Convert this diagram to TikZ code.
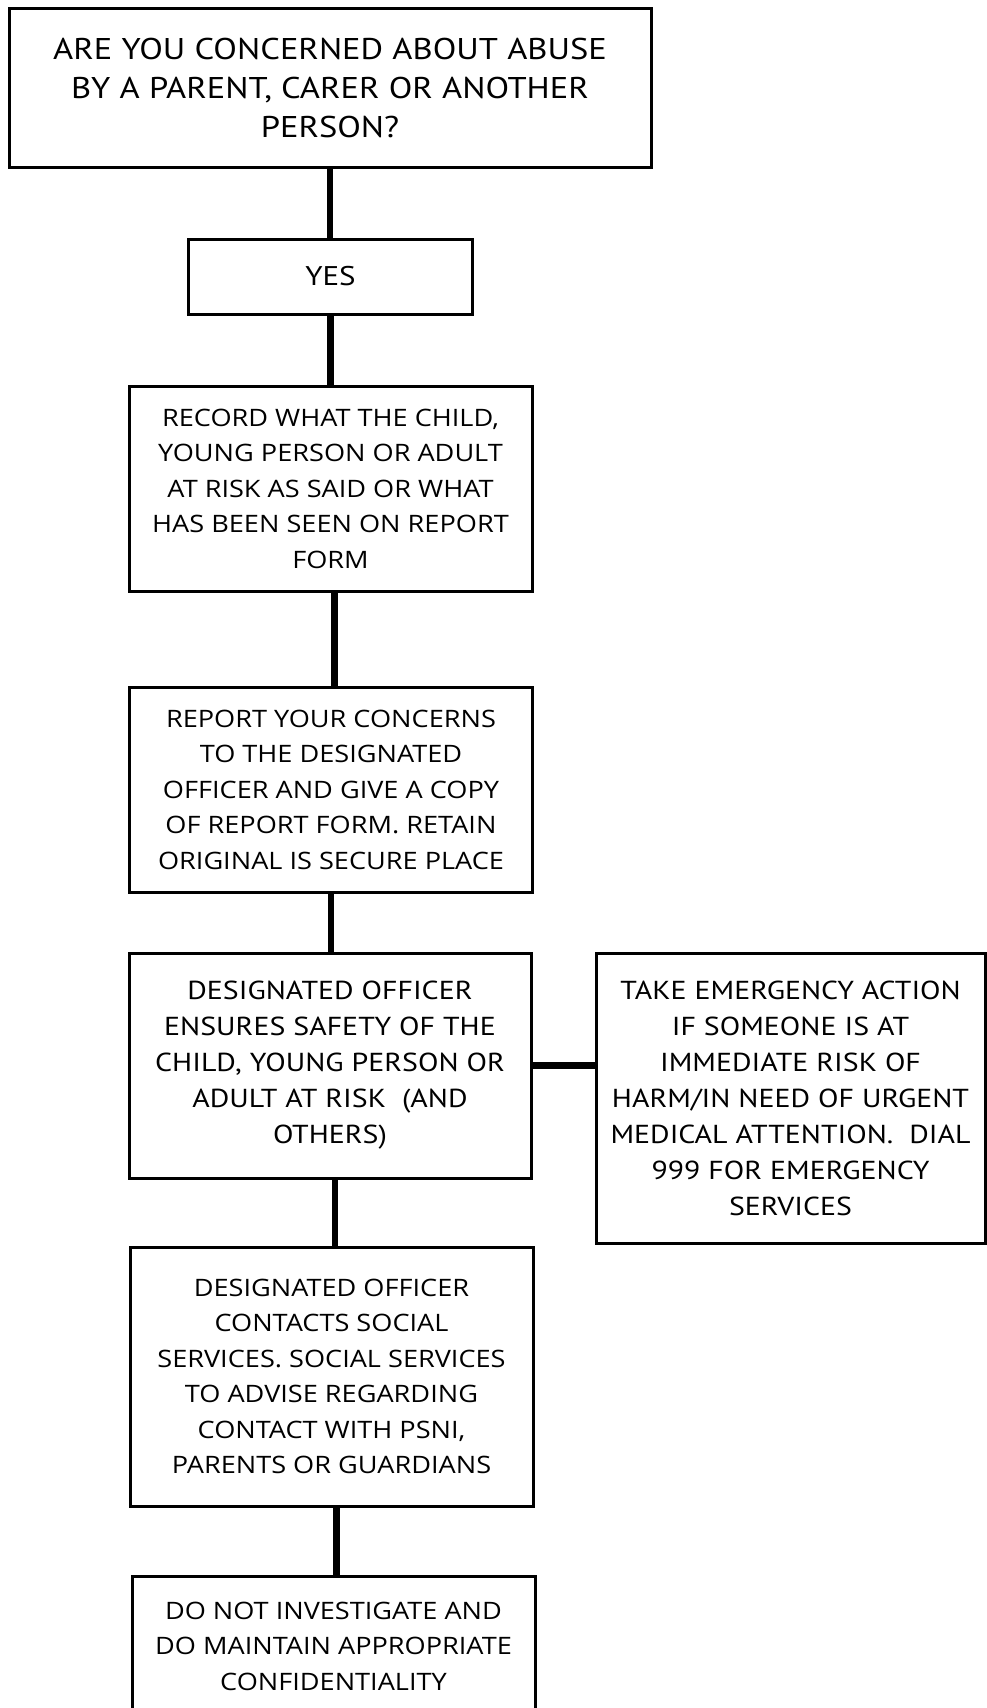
\documentclass[tikz,border=0pt]{standalone}
\usepackage{fontspec}
\setmainfont{Open Sans}
\newfontfamily\narrowfont[FakeStretch=1.15]{PT Sans}
\newfontfamily\widefont[FakeStretch=1.13]{Open Sans}
\usetikzlibrary{positioning}

\tikzset{
  stepbox/.style={draw, line width=3pt, inner sep=0pt, align=center},
  widetext/.style={font=\widefont\fontsize{24}{35.5}\selectfont},
  narrowtext/.style={font=\narrowfont\fontsize{26}{36}\selectfont},
  link/.style={line width=6.5pt},
}

\begin{document}
\begin{tikzpicture}[x=1pt,y=-1pt]
  \clip (0,0) rectangle (987,1708);
  \fill[white] (0,0) rectangle (987,1708);

  % main column
  \node (ask) [stepbox, minimum width=642pt, minimum height=159pt,
    font=\narrowfont\fontsize{30}{39}\selectfont] at (330,87.5)
    {ARE YOU CONCERNED ABOUT ABUSE\\BY A PARENT, CARER OR ANOTHER\\PERSON?};
  \node (yes) [stepbox, minimum width=284pt, minimum height=75pt,
    font=\narrowfont\fontsize{27}{36}\selectfont] at (330.5,276.5) {YES};
  \node (record) [stepbox, widetext, minimum width=403pt, minimum height=205pt] at (330.5,488.5)
    {RECORD WHAT THE CHILD,\\YOUNG PERSON OR ADULT\\AT RISK AS SAID OR WHAT\\HAS BEEN SEEN ON REPORT\\FORM};
  \node (report) [stepbox, widetext, minimum width=403pt, minimum height=205pt] at (331,789.5)
    {REPORT YOUR CONCERNS\\TO THE DESIGNATED\\OFFICER AND GIVE A COPY\\OF REPORT FORM. RETAIN\\ORIGINAL IS SECURE PLACE};
  \node (safety) [stepbox, narrowtext, minimum width=402pt, minimum height=225pt] at (330,1065.5)
    {DESIGNATED OFFICER\\ENSURES SAFETY OF THE\\CHILD, YOUNG PERSON OR\\ADULT AT RISK~~(AND\\OTHERS)};
  \node (social) [stepbox, widetext, minimum width=403pt, minimum height=259pt] at (331.5,1376.5)
    {DESIGNATED OFFICER\\CONTACTS SOCIAL\\SERVICES. SOCIAL SERVICES\\TO ADVISE REGARDING\\CONTACT WITH PSNI,\\PARENTS OR GUARDIANS};
  \node (secret) [stepbox, widetext, minimum width=403pt, minimum height=140pt] at (333.5,1646)
    {DO NOT INVESTIGATE AND\\DO MAINTAIN APPROPRIATE\\CONFIDENTIALITY};

  % side branch
  \node (urgent) [stepbox, narrowtext, minimum width=389pt, minimum height=290pt] at (790.5,1098)
    {TAKE EMERGENCY ACTION\\IF SOMEONE IS AT\\IMMEDIATE RISK OF\\HARM/IN NEED OF URGENT\\MEDICAL ATTENTION.~~DIAL\\999 FOR EMERGENCY\\SERVICES};

  % connectors
  \draw[link] (ask.south) -- (ask.south |- yes.north);
  \draw[link] (yes.south) -- (yes.south |- record.north);
  \draw[link] ([xshift=4pt]record.south) -- ([xshift=4pt]record.south |- report.north);
  \draw[link] (report.south) -- (report.south |- safety.north);
  \draw[link] ([xshift=5pt]safety.south) -- ([xshift=5pt]safety.south |- social.north);
  \draw[link] ([xshift=5pt]social.south) -- ([xshift=5pt]social.south |- secret.north);
  \draw[link] (safety.east) -- (safety.east -| urgent.west);
\end{tikzpicture}
\end{document}
